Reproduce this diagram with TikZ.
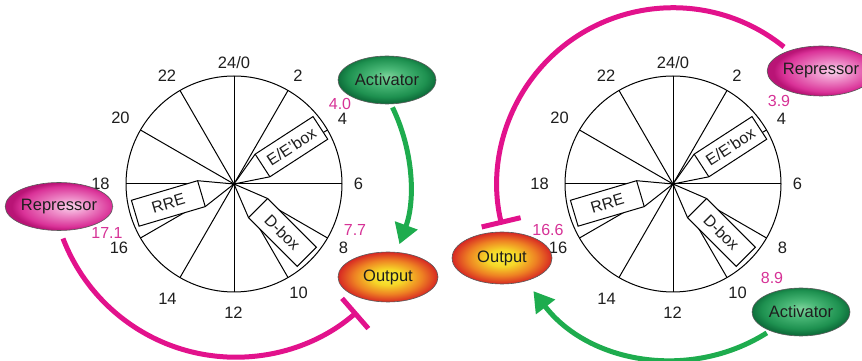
\documentclass[tikz,border=0pt]{standalone}
\usepackage{fontspec}
\setmainfont{Liberation Sans}
\usetikzlibrary{arrows.meta,shapes.geometric,calc}

% colours
\definecolor{magline}{RGB}{226,18,140}
\definecolor{greenline}{RGB}{30,172,78}
\definecolor{phase}{RGB}{214,50,150}
\definecolor{ink}{RGB}{30,30,30}
\definecolor{actA}{RGB}{125,210,155}
\definecolor{actB}{RGB}{75,185,120}
\definecolor{actC}{RGB}{30,145,80}
\definecolor{actD}{RGB}{15,112,60}
\definecolor{repA}{RGB}{250,210,236}
\definecolor{repB}{RGB}{238,140,200}
\definecolor{repC}{RGB}{218,50,152}
\definecolor{repD}{RGB}{185,20,118}
\definecolor{outA}{RGB}{250,238,60}
\definecolor{outB}{RGB}{246,215,40}
\definecolor{outC}{RGB}{238,130,35}
\definecolor{outD}{RGB}{215,40,35}

% ellipse fills (the node outline sits at about 25bp)
\pgfdeclareradialshading{actfill}{\pgfpoint{0bp}{4bp}}{%
  color(0bp)=(actA); color(8bp)=(actB); color(20bp)=(actC); color(25bp)=(actD); color(50bp)=(actD)}
\pgfdeclareradialshading{repfill}{\pgfpoint{6bp}{0bp}}{%
  color(0bp)=(repA); color(9bp)=(repB); color(21bp)=(repC); color(25bp)=(repD); color(50bp)=(repD)}
\pgfdeclareradialshading{outfill}{\pgfpoint{0bp}{0bp}}{%
  color(0bp)=(outA); color(8bp)=(outB); color(17bp)=(outC); color(25bp)=(outD); color(50bp)=(outD)}

% clock face: circle and six diameters
\newcommand\dialface[1]{%
  \draw[dialline] (#1) circle[radius=108];
  \foreach \a in {0,30,60,90,120,150}
    \draw[dialline] ($(#1)+(\a:108)$) -- ($(#1)+(\a+180:108)$);
}
% hour labels round a clock face
\newcommand\dialhours[2]{%
  \node[hour] (#2h0) at ($(#1)+(0,121.5)$) {24/0};
  \foreach \n/\dx/\dy in {2/64/108, 4/108.5/65, 6/124.5/0.5, 8/109.5/-64,
      10/64.5/-109, 12/-0.5/-129, 14/-66.5/-114.5, 16/-115/-64,
      18/-133.5/0.5, 20/-113.5/66, 22/-67/108}
    \node[hour] (#2h\n) at ($(#1)+(\dx,\dy)$) {\n};
}
% promoter element flag: wedge from the centre and a labelled box
\newcommand\siteflag[5]{%
  \begin{scope}[shift={(#1)}, rotate=#2]
    \filldraw[dialline, fill=white] (0,0) -- (34,13.5) -- (103,13.5)
      -- (103,-13.5) -- (34,-13.5) -- cycle;
    \draw[dialline] (34,13.5) -- (34,-13.5);
    \node[boxtext, rotate=#3] (#4) at (68.5,0) {#5};
  \end{scope}}

\begin{document}
\begin{tikzpicture}[x=1pt, y=1pt,
  dialline/.style={draw=black, line width=1pt},
  hour/.style={font=\fontsize{16.5}{18}\selectfont, text=ink, inner sep=0pt},
  phaselabel/.style={font=\fontsize{16}{18}\selectfont, text=phase, inner sep=0pt},
  boxtext/.style={font=\fontsize{16}{18}\selectfont, text=ink, inner sep=0pt},
  blob/.style={ellipse, draw=black!65, line width=0.6pt, minimum width=98,
    minimum height=48, inner sep=0pt, text=ink,
    font=\fontsize{16.5}{18}\selectfont},
  actblob/.style={blob, shading=actfill},
  repblob/.style={blob, shading=repfill},
  outblob/.style={blob, shading=outfill},
  represses/.style={draw=magline, line width=5pt, -{Bar[width=40pt]}},
  activates/.style={draw=greenline, line width=5pt,
    -{Triangle[length=20pt, width=23pt]}},
]
\useasboundingbox (0,0) rectangle (862,361);

\coordinate (C1) at (234,177);
\coordinate (C2) at (673,177);

% left clock
\dialface{C1}
\siteflag{C1}{33}{33}{ebox1}{E/E'box}
\siteflag{C1}{196.5}{16.5}{rre1}{RRE}
\siteflag{C1}{-45}{-45}{dbox1}{D-box}
\dialhours{C1}{l}

% right clock
\dialface{C2}
\siteflag{C2}{33}{33}{ebox2}{E/E'box}
\siteflag{C2}{196.5}{16.5}{rre2}{RRE}
\siteflag{C2}{-45}{-45}{dbox2}{D-box}
\dialhours{C2}{r}

% phases
\node[phaselabel] (p40) at (340,257) {4.0};
\node[phaselabel] (p77) at (355,131) {7.7};
\node[phaselabel] (p171) at (107,128) {17.1};
\node[phaselabel] (p39) at (779,260) {3.9};
\node[phaselabel] (p166) at (548,131) {16.6};
\node[phaselabel] (p89) at (772,83) {8.9};

% regulators and outputs
\node[actblob] (act1) at (387,281) {Activator};
\node[repblob] (rep1) at (59,154.5) {Repressor};
\node[outblob, minimum width=100, minimum height=50] (out1) at (388,84) {Output};
\node[outblob, minimum width=100, minimum height=52] (out2) at (502,103) {Output};
\node[repblob, minimum height=50] (rep2) at (821,290) {Repressor};
\node[actblob] (act2) at (801,49) {Activator};

% regulatory arcs
\draw[represses] (rep1.center) ++(4,-32) arc[start angle=201, end angle=311, radius=185];
\draw[activates] (act1.center) ++(5.5,-27.4) arc[start angle=25.8, end angle=-20, radius=176];
\draw[represses] (rep2.center) ++(-37,24) arc[start angle=51, end angle=193.4, radius=176.2];
\draw[activates] (act2.center) ++(-34.2,-20.9) arc[start angle=302.2, end angle=217.5, radius=176];
\end{tikzpicture}
\end{document}
